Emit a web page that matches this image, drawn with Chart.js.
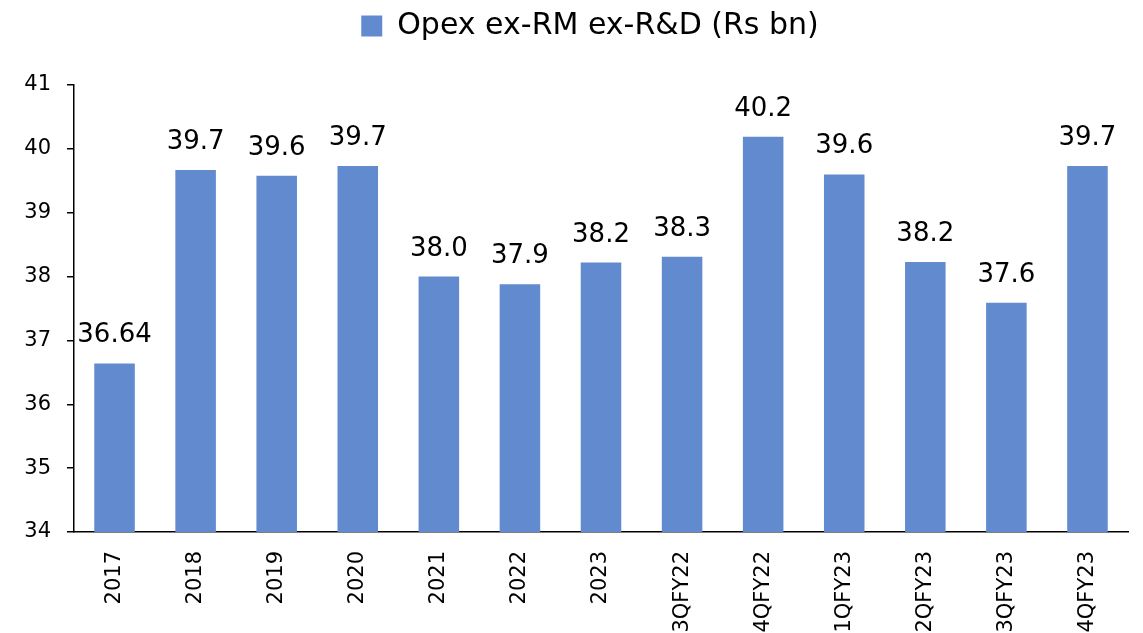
<!DOCTYPE html>
<html>
<head>
<meta charset="utf-8">
<script src="https://cdn.jsdelivr.net/npm/chart.js@4.4.0/dist/chart.umd.min.js"></script>
<style>
html,body{margin:0;padding:0;background:#fff;}
#wrap{width:1143px;height:633px;}
</style>
</head>
<body>
<div id="wrap"><canvas id="c" width="1143" height="633"></canvas></div>
<script>
const categories = ["2017","2018","2019","2020","2021","2022","2023","3QFY22","4QFY22","1QFY23","2QFY23","3QFY23","4QFY23"];
const values = [36.64, 39.67, 39.58, 39.73, 38.00, 37.88, 38.22, 38.31, 40.19, 39.60, 38.23, 37.59, 39.73];
const valueLabels = ["36.64","39.7","39.6","39.7","38.0","37.9","38.2","38.3","40.2","39.6","38.2","37.6","39.7"];
const seriesName = "Opex ex-RM ex-R&D (Rs bn)";
const yMin = 34, yMax = 41, yStep = 1;

const FONT = "'DejaVu Sans', sans-serif";
const BAR = "rgb(97,138,207)";

const legendLayout = {
  id: 'legendLayout',
  beforeInit(chart) {
    const lg = chart.legend;
    if (!lg) return;
    const orig = lg.fit;
    lg.fit = function() { orig.call(this); this.height = 85; };
  },
  afterLayout(chart) {
    const lg = chart.legend;
    if (!lg) return;
    lg.left += 26;
    lg.right += 26;
  }
};

const dataLabels = {
  id: 'dataLabels',
  afterDatasetsDraw(chart) {
    const ctx = chart.ctx;
    const meta = chart.getDatasetMeta(0);
    ctx.save();
    ctx.font = "26px " + FONT;
    ctx.fillStyle = "#000";
    ctx.textAlign = "center";
    ctx.textBaseline = "alphabetic";
    meta.data.forEach((bar, i) => {
      ctx.fillText(valueLabels[i], bar.x, bar.y - 21);
    });
    ctx.restore();
  }
};

Chart.defaults.color = "#000";
Chart.defaults.font.family = FONT;

new Chart(document.getElementById('c'), {
  type: 'bar',
  data: {
    labels: categories,
    datasets: [{
      label: seriesName,
      data: values,
      backgroundColor: BAR,
      borderWidth: 0,
      barPercentage: 0.5,
      categoryPercentage: 1.0
    }]
  },
  options: {
    responsive: false,
    animation: false,
    layout: { padding: { left: 0, right: 15, top: 0, bottom: 0 } },
    plugins: {
      legend: {
        position: 'top',
        labels: {
          boxWidth: 21,
          boxHeight: 21,
          padding: 11,
          font: { size: 30, family: FONT },
          color: "#000"
        }
      },
      tooltip: { enabled: false }
    },
    scales: {
      x: {
        grid: { display: false, drawTicks: false },
        border: { display: true, color: "#000", width: 1.5 },
        ticks: {
          maxRotation: 90, minRotation: 90,
          autoSkip: false,
          padding: 19,
          font: { size: 21, family: FONT },
          color: "#000"
        },
        afterFit(scale) { scale.height = 101; }
      },
      y: {
        min: yMin, max: yMax,
        grid: { drawOnChartArea: false, drawTicks: true, tickLength: 7, color: "#000", lineWidth: 1.5 },
        border: { display: true, color: "#000", width: 1.5 },
        ticks: {
          stepSize: yStep,
          padding: 16,
          font: { size: 21, family: FONT },
          color: "#000"
        },
        afterFit(scale) { scale.width = 74; }
      }
    }
  },
  plugins: [legendLayout, dataLabels]
});
</script>
</body>
</html>
